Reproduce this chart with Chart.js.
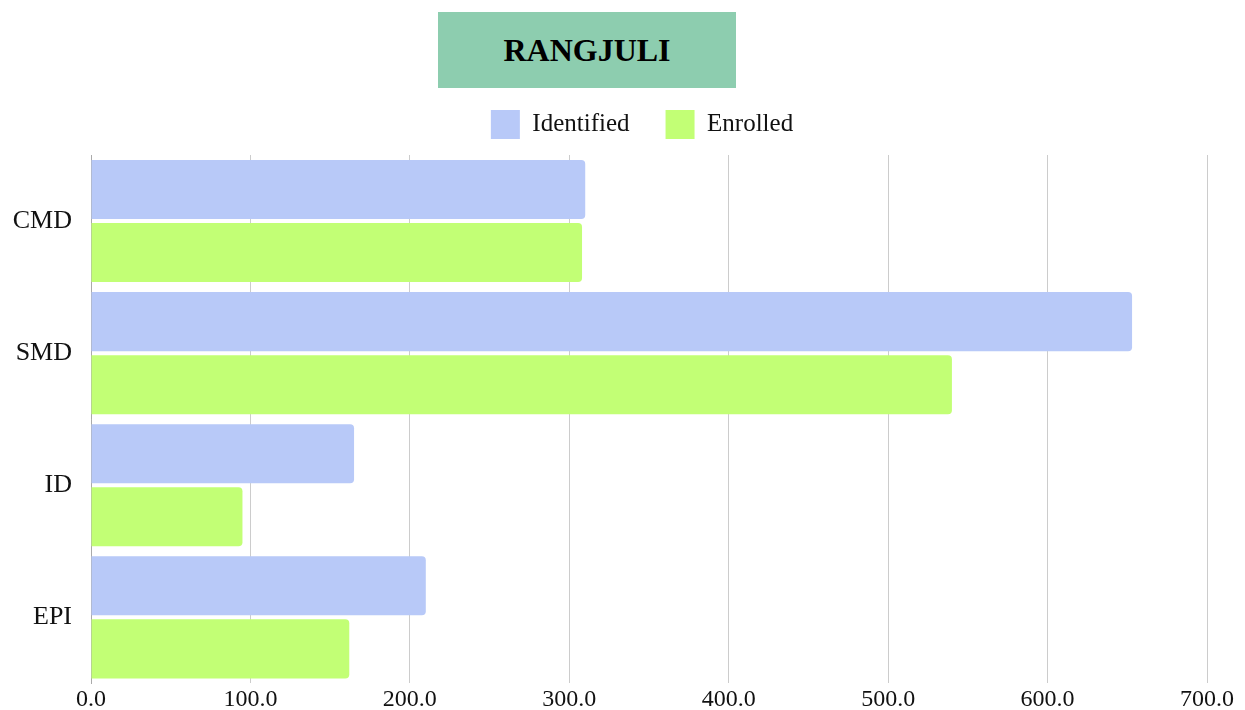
<!DOCTYPE html>
<html>
<head>
<meta charset="utf-8">
<script src="https://cdn.jsdelivr.net/npm/chart.js@4"></script>
<style>
  body { margin: 0; background: #fff; }
  #wrap { position: relative; width: 1245px; height: 710px; }
  #title {
    position: absolute; left: 438px; top: 12px; width: 298px; height: 76px;
    background: #8dcdaf; color: #000;
    font: bold 32px "Liberation Serif", serif;
    display: flex; align-items: center; justify-content: center;
  }
</style>
</head>
<body>
<div id="wrap">
  <canvas id="chart" width="1245" height="710"></canvas>
  <div id="title">RANGJULI</div>
</div>
<script>
const categories = ['CMD', 'SMD', 'ID', 'EPI']
const identified = [310, 653, 165, 210]
const enrolled = [308, 540, 95, 162]
const xTicksMax = 700

Chart.defaults.font.family = '"Liberation Serif", serif'
Chart.defaults.color = '#111'

// legend spacing tweaks
const legendGap = {
  id: 'legendGap',
  beforeInit(chart) {
    const fit = chart.legend.fit
    chart.legend.fit = function () {
      fit.bind(chart.legend)()
      this.height += 6
    }
  },
  afterLayout(chart) {
    chart.legend.left -= 7
    chart.legend.right -= 7
  }
}

const data = {
  labels: categories,
  datasets: [{
    label: 'Identified',
    data: identified,
    backgroundColor: '#b8c9f8',
    borderRadius: 4,
    borderSkipped: 'start'
  }, {
    label: 'Enrolled',
    data: enrolled,
    backgroundColor: '#c2ff75',
    borderRadius: 4,
    borderSkipped: 'start'
  }]
}

const config = {
  type: 'bar',
  data: data,
  options: {
    indexAxis: 'y',
    responsive: false,
    animation: false,
    categoryPercentage: 0.9545,
    barPercentage: 0.9365,
    layout: {padding: {top: 74, right: 38, bottom: -8, left: 0}},
    plugins: {
      title: {display: false},
      tooltip: {enabled: false},
      legend: {
        fullSize: false,
        labels: {boxWidth: 29, boxHeight: 29, padding: 36, font: {size: 25}}
      }
    },
    scales: {
      x: {
        min: 0, max: xTicksMax,
        ticks: {stepSize: 100, font: {size: 24}, padding: 2, callback: v => v.toFixed(1)},
        grid: {color: '#cccccc', drawTicks: false},
        border: {display: false}
      },
      y: {
        ticks: {font: {size: 26}, padding: 11},
        grid: {display: false},
        border: {display: true, color: '#aaaaaa'},
        afterFit(scale) { scale.width = 91 }
      }
    }
  },
  plugins: [legendGap]
}

const myChart = new Chart(document.getElementById('chart'), config)
</script>
</body>
</html>
